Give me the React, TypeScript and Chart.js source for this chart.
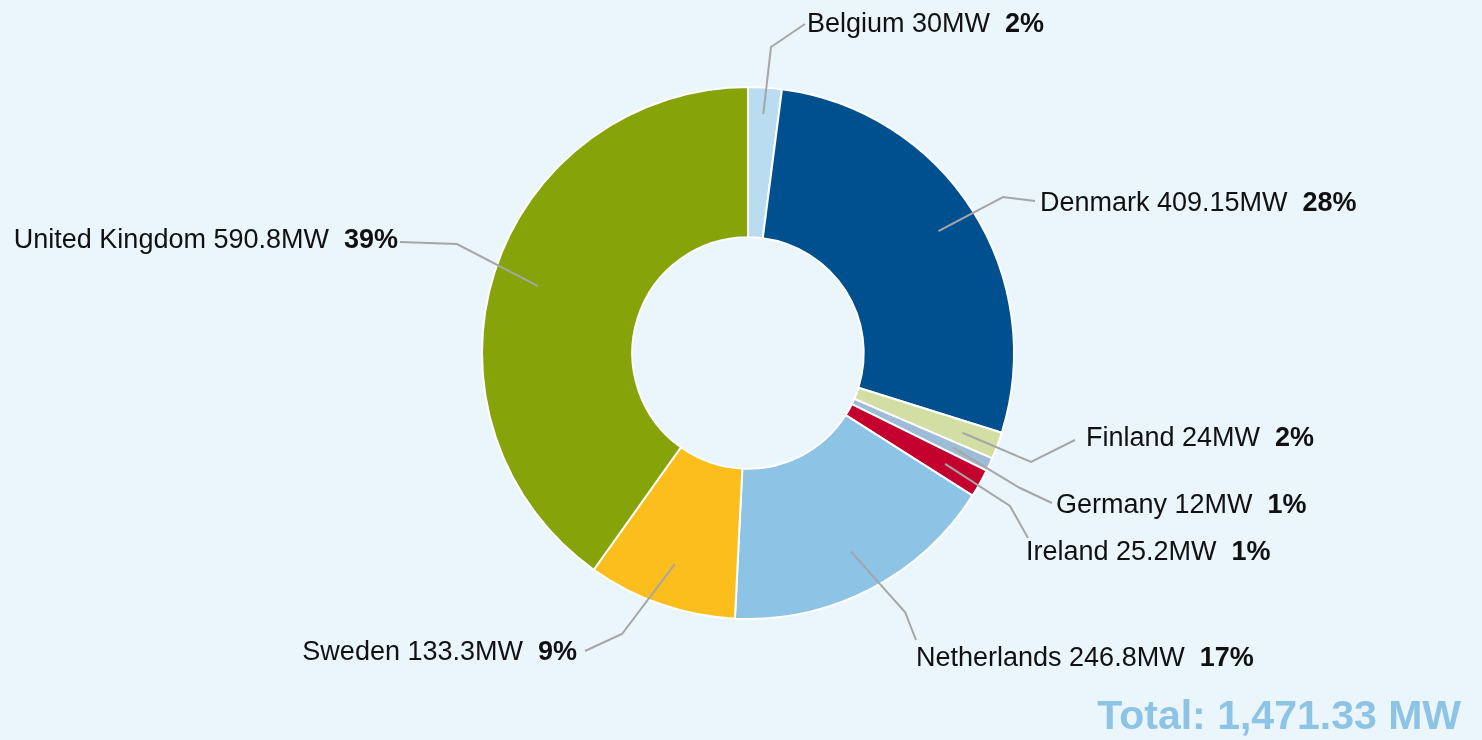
import React, { useEffect, useRef } from "react";
import { Chart, registerables } from "chart.js";

Chart.register(...registerables);

const countries = ["Belgium", "Denmark", "Finland", "Germany", "Ireland", "Netherlands", "Sweden", "United Kingdom"];
const capacityMW = [30, 409.15, 24, 12, 25.2, 246.8, 133.3, 590.8];
const capacityLabels = ["30MW", "409.15MW", "24MW", "12MW", "25.2MW", "246.8MW", "133.3MW", "590.8MW"];
const percentLabels = ["2%", "28%", "2%", "1%", "1%", "17%", "9%", "39%"];
const sliceColors = ["#b9dcf0", "#00508f", "#d2dea3", "#9dbdd6", "#c4002e", "#8dc3e5", "#fbbe1c", "#87a30a"];
const totalLabel = "Total: 1,471.33 MW";

// label layout: start radius fraction, elbow offset from center, line end offset, text anchor offset, align
const labelLayout = [
  { f: 0.9, ex: 23, ey: -306, lx: 57, ly: -329, tx: 59, ty: -328, align: "left" },
  { f: 0.85, ex: 255, ey: -156, lx: 287, ly: -152, tx: 292, ty: -149, align: "left" },
  { f: 0.86, ex: 283, ey: 109, lx: 327, ly: 87, tx: 338, ty: 86, align: "left" },
  { f: 0.85, ex: 272, ey: 135, lx: 304, ly: 150, tx: 308, ty: 153, align: "left" },
  { f: 0.85, ex: 262, ey: 153, lx: 280, ly: 185, tx: 278, ty: 200, align: "left" },
  { f: 0.84, ex: 157, ey: 259, lx: 168, ly: 287, tx: 168, ty: 306, align: "left" },
  { f: 0.84, ex: -126, ey: 281, lx: -163, ly: 298, tx: -171, ty: 300, align: "right" },
  { f: 0.83, ex: -291, ey: -109, lx: -348, ly: -111, tx: -350, ty: -112, align: "right" },
];

const FONT = "'Liberation Sans', Arial, sans-serif";
const FS = 27;

const labelPlugin = {
  id: "leaderLabels",
  afterDatasetsDraw(chart: any) {
    const ctx = chart.ctx;
    const meta = chart.getDatasetMeta(0);
    ctx.save();
    meta.data.forEach((arc: any, i: number) => {
      const p = arc.getProps(["x", "y", "startAngle", "endAngle", "outerRadius"], true);
      const mid = (p.startAngle + p.endAngle) / 2;
      const L = labelLayout[i];
      const sx = p.x + Math.cos(mid) * p.outerRadius * L.f;
      const sy = p.y + Math.sin(mid) * p.outerRadius * L.f;
      ctx.strokeStyle = "#a6a6a6";
      ctx.lineWidth = 2;
      ctx.beginPath();
      ctx.moveTo(sx, sy);
      ctx.lineTo(p.x + L.ex, p.y + L.ey);
      ctx.lineTo(p.x + L.lx, p.y + L.ly);
      ctx.stroke();

      const nameText = countries[i] + " " + capacityLabels[i] + "  ";
      const pctText = percentLabels[i];
      ctx.font = `${FS}px ${FONT}`;
      const w1 = ctx.measureText(nameText).width;
      ctx.font = `bold ${FS}px ${FONT}`;
      const w2 = ctx.measureText(pctText).width;
      let x = p.x + L.tx;
      const y = p.y + L.ty;
      if (L.align === "right") x -= w1 + w2;
      ctx.textBaseline = "middle";
      ctx.textAlign = "left";
      ctx.fillStyle = "#111111";
      ctx.font = `${FS}px ${FONT}`;
      ctx.fillText(nameText, x, y);
      ctx.font = `bold ${FS}px ${FONT}`;
      ctx.fillText(pctText, x + w1, y);
    });
    // total
    ctx.font = `bold 41px ${FONT}`;
    ctx.fillStyle = "#8dc3e5";
    ctx.textAlign = "right";
    ctx.textBaseline = "alphabetic";
    ctx.fillText(totalLabel, 1461, 729);
    ctx.restore();
  },
};

export default function App() {
  const ref = useRef<HTMLCanvasElement | null>(null);
  useEffect(() => {
    document.body.style.margin = "0";
    const chart = new Chart(ref.current as HTMLCanvasElement, {
      type: "doughnut",
      data: {
        labels: countries,
        datasets: [
          {
            data: capacityMW,
            backgroundColor: sliceColors,
            borderColor: "#ffffff",
            borderWidth: 2,
          },
        ],
      },
      options: {
        animation: false,
        responsive: false,
        cutout: "43.5%",
        layout: { padding: { top: 86, bottom: 120, left: 14, right: 0 } },
        plugins: { legend: { display: false }, tooltip: { enabled: false } },
      },
      plugins: [labelPlugin],
    });
    return () => chart.destroy();
  }, []);
  return (
    <div style={{ position: "fixed", left: 0, top: 0, width: 1482, height: 740, background: "#eaf5fc" }}>
      <canvas ref={ref} width={1482} height={740} style={{ width: 1482, height: 740, display: "block" }} />
    </div>
  );
}
